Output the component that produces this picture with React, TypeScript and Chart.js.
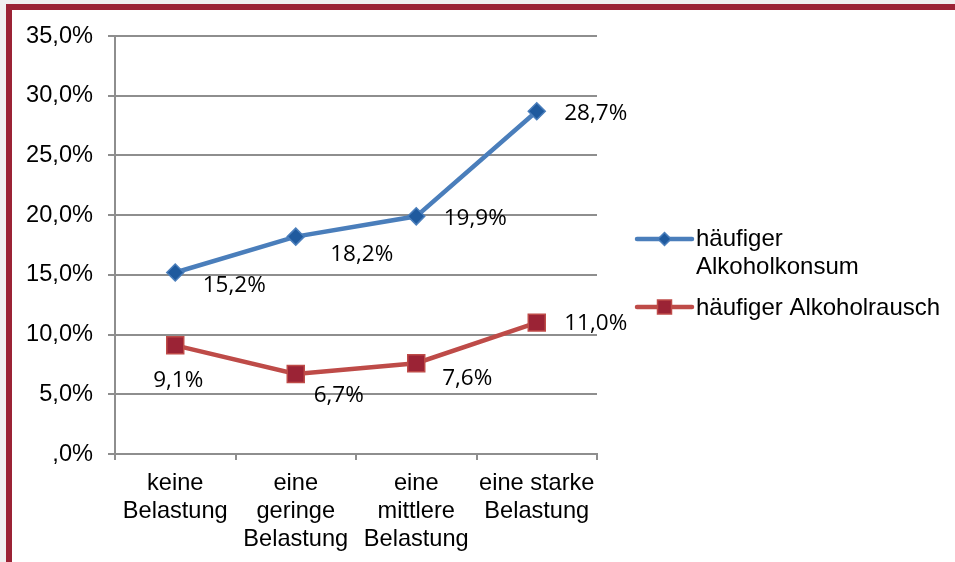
import React, { useEffect, useRef } from "react";
import { Chart, registerables } from "chart.js";

Chart.register(...registerables);

const categories: string[][] = [
  ["keine", "Belastung"],
  ["eine", "geringe", "Belastung"],
  ["eine", "mittlere", "Belastung"],
  ["eine starke", "Belastung"],
];
const seriesNames = ["häufiger Alkoholkonsum", "häufiger Alkoholrausch"];
const konsum = [15.2, 18.2, 19.9, 28.7];
const rausch = [9.1, 6.7, 7.6, 11.0];
const yMax = 35;
const yStep = 5;

const BLUE_LINE = "#4a7ebb";
const BLUE_MARK = "#1f5a9e";
const RED_LINE = "#be4b48";
const RED_MARK = "#9b2335";
const GRID = "#8e8e8e";
const AXIS_FONT = "'Liberation Sans', Arial, sans-serif";
const LABEL_FONT = "'Open Sans', 'Noto Sans', sans-serif";

const fmt = (v: number) => {
  const s = v.toFixed(1).replace(".", ",") + "%";
  return s.startsWith("0,") ? s.slice(1) : s;
};

// label offsets relative to each point (placement only)
const labelOffsets = [
  [[59, 13], [66, 18], [59, 2], [59, 2]],
  [[3, 35], [43, 22], [51, 15], [59, 1]],
];

const dataLabelPlugin = {
  id: "dataLabels",
  afterDatasetsDraw(chart: any) {
    const ctx = chart.ctx;
    ctx.save();
    ctx.font = `22.5px ${LABEL_FONT}`;
    ctx.fillStyle = "#000";
    ctx.textAlign = "center";
    ctx.textBaseline = "middle";
    chart.data.datasets.forEach((ds: any, di: number) => {
      const meta = chart.getDatasetMeta(di);
      meta.data.forEach((pt: any, i: number) => {
        const [dx, dy] = labelOffsets[di][i];
        ctx.fillText(fmt(ds.data[i]), pt.x + dx, pt.y + dy);
      });
    });
    ctx.restore();
  },
};

const legendPlugin = {
  id: "customLegend",
  afterDraw(chart: any) {
    const ctx = chart.ctx;
    ctx.save();
    const x0 = 637;
    const x1 = 692;
    const xm = (x0 + x1) / 2;
    // series 1
    ctx.strokeStyle = BLUE_LINE;
    ctx.lineWidth = 4.5;
    ctx.lineCap = "round";
    ctx.beginPath();
    ctx.moveTo(x0, 239);
    ctx.lineTo(x1, 239);
    ctx.stroke();
    ctx.fillStyle = BLUE_MARK;
    ctx.strokeStyle = BLUE_LINE;
    ctx.lineWidth = 1.5;
    ctx.beginPath();
    ctx.moveTo(xm, 239 - 6.5);
    ctx.lineTo(xm + 6.5, 239);
    ctx.lineTo(xm, 239 + 6.5);
    ctx.lineTo(xm - 6.5, 239);
    ctx.closePath();
    ctx.fill();
    ctx.stroke();
    // series 2
    ctx.strokeStyle = RED_LINE;
    ctx.lineWidth = 4.5;
    ctx.beginPath();
    ctx.moveTo(x0, 307);
    ctx.lineTo(x1, 307);
    ctx.stroke();
    ctx.fillStyle = RED_MARK;
    ctx.strokeStyle = RED_LINE;
    ctx.lineWidth = 1.5;
    ctx.fillRect(xm - 7, 307 - 7, 14, 14);
    ctx.strokeRect(xm - 7, 307 - 7, 14, 14);
    // text
    ctx.fillStyle = "#000";
    ctx.font = `24px ${AXIS_FONT}`;
    ctx.textAlign = "left";
    ctx.textBaseline = "alphabetic";
    const parts = seriesNames[0].split(" ");
    ctx.fillText(parts[0], 696, 246);
    ctx.fillText(parts.slice(1).join(" "), 696, 274);
    ctx.fillText(seriesNames[1], 696, 315);
    ctx.restore();
  },
};

export default function App() {
  const ref = useRef<HTMLCanvasElement | null>(null);
  useEffect(() => {
    if (!ref.current) return;
    const chart = new Chart(ref.current, {
      type: "line",
      data: {
        labels: categories,
        datasets: [
          {
            label: seriesNames[0],
            data: konsum,
            borderColor: BLUE_LINE,
            borderWidth: 4.5,
            tension: 0,
            pointStyle: "rectRot",
            pointRadius: 8.5,
            pointBackgroundColor: BLUE_MARK,
            pointBorderColor: BLUE_LINE,
            pointBorderWidth: 1.5,
          },
          {
            label: seriesNames[1],
            data: rausch,
            borderColor: RED_LINE,
            borderWidth: 4.5,
            tension: 0,
            pointStyle: "rect",
            pointRadius: 12,
            pointBackgroundColor: RED_MARK,
            pointBorderColor: RED_LINE,
            pointBorderWidth: 1.5,
          },
        ],
      },
      options: {
        animation: false,
        responsive: false,
        devicePixelRatio: 1,
        layout: { padding: { left: 0, top: 36, right: 358, bottom: 0 } },
        plugins: {
          legend: { display: false },
          tooltip: { enabled: false },
        },
        scales: {
          x: {
            type: "category",
            offset: true,
            grid: {
              offset: true,
              drawOnChartArea: false,
              drawTicks: true,
              tickLength: 6,
              color: GRID,
              lineWidth: 2,
            },
            border: { display: true, color: GRID, width: 2 },
            ticks: {
              color: "#000",
              font: { family: AXIS_FONT, size: 23.6, lineHeight: 1.17 },
              padding: 10,
              maxRotation: 0,
              autoSkip: false,
            },
            afterFit: (s: any) => {
              s.height = 108;
            },
          },
          y: {
            min: 0,
            max: yMax,
            ticks: {
              stepSize: yStep,
              color: "#000",
              font: { family: AXIS_FONT, size: 23.6 },
              padding: 15,
              callback: (v: any) => fmt(Number(v)),
            },
            grid: {
              color: GRID,
              lineWidth: 2,
              drawTicks: true,
              tickLength: 7,
            },
            border: { display: true, color: GRID, width: 2 },
            afterFit: (s: any) => {
              s.width = 115;
            },
          },
        },
      },
      plugins: [dataLabelPlugin, legendPlugin],
    } as any);
    return () => chart.destroy();
  }, []);

  return (
    <div
      style={{
        position: "fixed",
        left: 0,
        top: 0,
        width: 955,
        height: 562,
        overflow: "hidden",
        background: "#f0f0f0",
      }}
    >
      <div
        style={{
          position: "absolute",
          left: 6,
          top: 4,
          width: 1000,
          height: 700,
          boxSizing: "border-box",
          border: "6px solid #9b2335",
          background: "#fff",
        }}
      />
      <canvas
        ref={ref}
        width={955}
        height={562}
        style={{ position: "absolute", left: 0, top: 0, width: 955, height: 562 }}
      />
    </div>
  );
}
